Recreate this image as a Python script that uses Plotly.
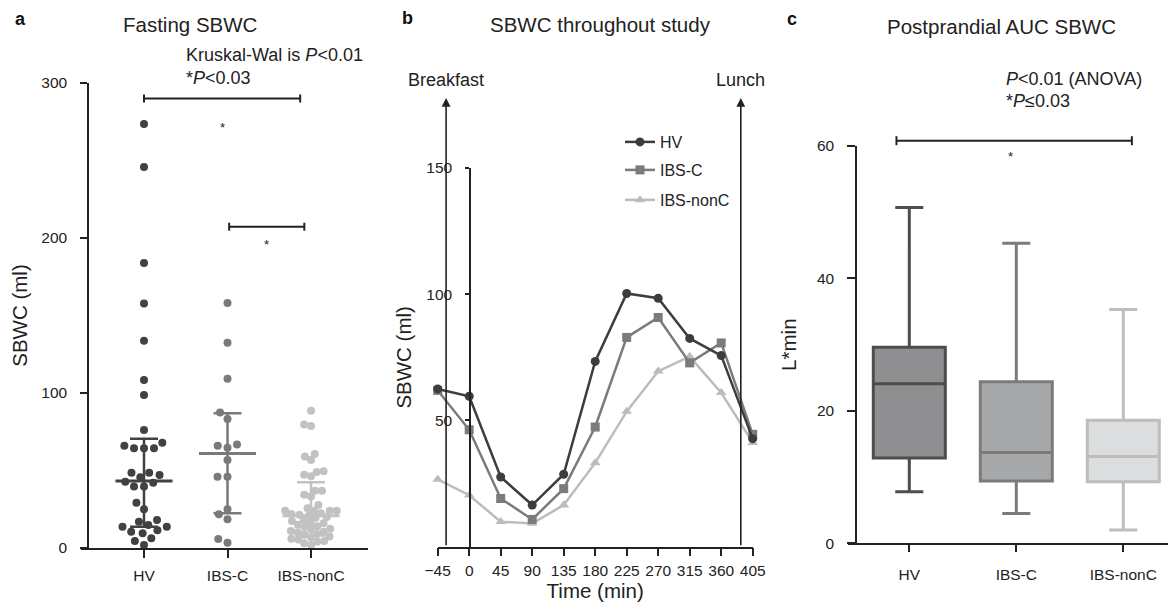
import math
import plotly.graph_objects as go

# ---------------- data ----------------
groups = ["HV", "IBS-C", "IBS-nonC"]

# Panel a: fasting SBWC (ml), individual subjects
fasting_hv = [273.5, 245.8, 183.9, 157.8, 133.7, 108.4, 98.7, 76.1, 67.9, 66.0, 64.3, 64.3,
              64.3, 48.6, 48.6, 47.1, 45.6, 42.8, 42.1, 39.6, 39.6, 29.2, 25.0, 18.0, 17.0,
              14.8, 13.7, 13.7, 11.4, 10.5, 9.5, 6.3, 4.5, 1.9]
fasting_ibsc = [158.0, 132.5, 109.2, 87.5, 83.2, 66.7, 66.0, 64.7, 56.8, 46.0, 46.0, 25.0,
                21.7, 18.5, 5.8, 3.4]
fasting_ibsnonc = [88.6, 79.6, 78.7, 60.6, 59.0, 56.8, 49.5, 49.0, 47.3, 46.3, 37.0, 37.0,
                   34.4, 33.3, 27.7, 25.6, 24.1, 24.1, 24.1, 24.1, 22.5, 22.0, 21.5, 21.0,
                   20.0, 19.5, 18.0, 17.5, 16.5, 16.0, 15.0, 14.0, 13.5, 12.5, 12.0, 11.0,
                   10.5, 10.0, 9.0, 8.5, 7.5, 7.0, 6.0, 5.5, 4.5, 4.0, 3.0, 2.0]
# median and interquartile range shown on panel a
fasting_median = [43.2, 61.0, 20.8]
fasting_q1 = [13.7, 22.4, 8.0]
fasting_q3 = [70.5, 87.0, 42.4]

# Panel b: SBWC over time (ml)
time_min = [-45, 0, 45, 90, 135, 180, 225, 270, 315, 360, 405]
sbwc_hv = [62.5, 59.6, 27.6, 16.5, 28.7, 73.4, 100.3, 98.4, 82.5, 75.7, 42.8]
sbwc_ibsc = [61.9, 46.3, 19.1, 10.8, 23.0, 47.4, 82.9, 90.8, 72.8, 80.7, 44.5]
sbwc_ibsnonc = [26.7, 20.4, 9.9, 9.2, 16.5, 33.2, 53.6, 69.5, 75.3, 61.0, 41.2]
meal_times = [-33, 388]
meal_labels = ["Breakfast", "Lunch"]

# Panel c: postprandial AUC (L*min) box summaries
auc_low = [7.8, 4.5, 2.0]
auc_q1 = [12.9, 9.4, 9.3]
auc_median = [24.1, 13.7, 13.1]
auc_q3 = [29.6, 24.4, 18.6]
auc_high = [50.7, 45.3, 35.3]

# significance brackets: (from category, to category, level)
brackets_a = [(0.0, 1.87, 290.0), (1.02, 1.92, 207.3)]
brackets_c = [(-0.12, 2.08, 60.8)]

# ---------------- layout geometry (pixels of the 1176x611 page) ----------------
PAGE_W, PAGE_H = 1176, 611
BODY = 8                       # default page body margin
W, H = PAGE_W - BODY, PAGE_H - BODY
FONT = "Liberation Sans, Arial, Helvetica, sans-serif"
INK = "#222222"

def fx(px):
    return (px - BODY) / W

def fy(py):
    return 1 - (py - BODY) / H

A_X0, A_X1, A_YAX, A_YB, A_YT = 81, 368, 88, 548, 83
A_CAT0, A_STEP = 144, 83.5
B_X0, B_X1, B_YAX, B_YB, B_YT = 437.7, 752.7, 470, 546.7, 168
C_X0, C_X1, C_YAX, C_YB, C_YT = 848, 1176, 856, 543.3, 146
C_CAT0, C_STEP = 909.3, 107
ARROW_TOP = 98

a_ppu = (A_YB - A_YT) / 300.0     # px per ml
c_ppu = (C_YB - C_YT) / 60.0      # px per L*min

col_pts = ["#414141", "#7a7a7a", "#c2c2c2"]
col_line = ["#3d3d3d", "#7b7b7b", "#bcbcbc"]
col_box_fill = ["#8f8f91", "#a7a8aa", "#dcdddf"]
col_box_edge = ["#4d4d4d", "#7b7b7b", "#bdbdbd"]
swarm_gap = [10.0, 10.0, 7.0]


def swarm(values, diam, ppu):
    """beeswarm horizontal offsets (pixels) from values"""
    placed = []
    offs = [0.0] * len(values)
    for i in sorted(range(len(values)), key=lambda k: values[k]):
        y = values[i] * ppu
        cands = [0.0]
        for xo, yo in placed:
            dy = abs(y - yo)
            if dy < diam:
                dx = math.sqrt(diam * diam - dy * dy)
                cands += [xo + dx, xo - dx]
        cands.sort(key=lambda c: (abs(c), c))
        for c in cands:
            if all((c - xo) ** 2 + (y - yo) ** 2 >= diam * diam - 1e-6 for xo, yo in placed):
                offs[i] = c
                placed.append((c, y))
                break
    return offs


fig = go.Figure()
shapes = []

# ---------------- panel a ----------------
for gi, vals in enumerate([fasting_hv, fasting_ibsc, fasting_ibsnonc]):
    offs = swarm(vals, swarm_gap[gi], a_ppu)
    fig.add_trace(go.Scatter(
        x=[gi + o / A_STEP for o in offs], y=vals, mode="markers",
        marker=dict(size=8, color=col_pts[gi], line=dict(width=0)),
        xaxis="x", yaxis="y", showlegend=False, cliponaxis=False, name=groups[gi]))
for gi in range(3):
    fig.add_trace(go.Scatter(
        x=[gi], y=[fasting_median[gi]], mode="markers",
        marker=dict(symbol="line-ew", size=57 / 1.4, line=dict(width=3, color=col_pts[gi])),
        error_y=dict(type="data", symmetric=False,
                     array=[fasting_q3[gi] - fasting_median[gi]],
                     arrayminus=[fasting_median[gi] - fasting_q1[gi]],
                     width=14, thickness=2.5, color=col_pts[gi]),
        xaxis="x", yaxis="y", showlegend=False, cliponaxis=False))


def bracket(x0, x1, ypx, h, xa):
    line = dict(color=INK, width=2)
    shapes.append(dict(type="line", xref=xa, yref="paper", x0=x0, x1=x1,
                       y0=fy(ypx), y1=fy(ypx), line=line))
    for xe in (x0, x1):
        shapes.append(dict(type="line", xref=xa, yref="paper", x0=xe, x1=xe,
                           y0=fy(ypx - h), y1=fy(ypx + h), line=line))


for x0, x1, lvl in brackets_a:
    bracket(x0, x1, A_YB - lvl * a_ppu, 4, "x")

# ---------------- panel b ----------------
series_b = [(sbwc_ibsnonc, 2, "triangle-up", "legend3"),
            (sbwc_ibsc, 1, "square", "legend2"),
            (sbwc_hv, 0, "circle", "legend")]
for vals, gi, sym, leg in series_b:
    fig.add_trace(go.Scatter(
        x=time_min, y=vals, mode="lines+markers", name=groups[gi],
        line=dict(color=col_line[gi], width=2.5),
        marker=dict(symbol=sym, size=9 if sym != "triangle-up" else 9.5, color=col_line[gi]),
        xaxis="x2", yaxis="y2", legend=leg, cliponaxis=False))

# ---------------- panel c ----------------
for gi in range(3):
    fig.add_trace(go.Box(
        x=[gi], q1=[auc_q1[gi]], median=[auc_median[gi]], q3=[auc_q3[gi]],
        lowerfence=[auc_low[gi]], upperfence=[auc_high[gi]],
        width=72 / C_STEP, whiskerwidth=0.39, boxpoints=False,
        fillcolor=col_box_fill[gi], line=dict(color=col_box_edge[gi], width=3),
        xaxis="x3", yaxis="y3", showlegend=False, name=groups[gi]))
for x0, x1, lvl in brackets_c:
    bracket(x0, x1, C_YB - lvl * c_ppu, 4.5, "x3")

# ---------------- axes ----------------
tickfont = dict(family=FONT, size=15.5, color=INK)
titlefont = dict(family=FONT, size=20.5, color=INK)
common = dict(showline=True, linecolor=INK, linewidth=1.5, ticks="outside",
              tickcolor=INK, tickwidth=1.5, showgrid=False, zeroline=False,
              tickfont=tickfont, automargin=False)

fig.update_layout(
    xaxis=dict(common, domain=[fx(A_X0), fx(A_X1)],
               range=[(A_X0 - A_CAT0) / A_STEP, (A_X1 - A_CAT0) / A_STEP],
               tickvals=[0, 1, 2], ticktext=groups, ticklen=8, anchor="y",
               ticklabelstandoff=5),
    yaxis=dict(common, domain=[fy(A_YB), fy(A_YT)], range=[0, 300],
               tickvals=[0, 100, 200, 300], ticklen=7, anchor="free", position=fx(A_YAX),
               ticklabelstandoff=10, title=dict(text="SBWC (ml)", font=titlefont, standoff=10)),
    xaxis2=dict(common, domain=[fx(B_X0), fx(B_X1)], range=[-45, 405],
                tickvals=time_min, ticklen=8, anchor="y2", ticklabelstandoff=1,
                title=dict(text="Time (min)", font=titlefont, standoff=4)),
    yaxis2=dict(common, domain=[fy(B_YB), fy(B_YT)], range=[0, 150],
                tickvals=[50, 100, 150], ticklen=4, anchor="free", position=fx(B_YAX),
                ticklabelstandoff=10, title=dict(text="SBWC (ml)", font=titlefont, standoff=8)),
    xaxis3=dict(common, domain=[fx(C_X0), fx(C_X1)],
                range=[(C_X0 - C_CAT0) / C_STEP, (C_X1 - C_CAT0) / C_STEP],
                tickvals=[0, 1, 2], ticktext=groups, ticklen=7, anchor="y3",
                ticklabelstandoff=9),
    yaxis3=dict(common, domain=[fy(C_YB), fy(C_YT)], range=[0, 60],
                tickvals=[0, 20, 40, 60], ticklen=8, anchor="free", position=fx(C_YAX),
                ticklabelstandoff=10, title=dict(text="L*min", font=titlefont, standoff=14)),
)

# legends (one per entry for exact spacing)
leg_common = dict(xanchor="left", yanchor="middle", bgcolor="rgba(0,0,0,0)",
                  font=dict(family=FONT, size=16, color=INK), itemwidth=30)
fig.update_layout(
    legend=dict(leg_common, x=fx(620), y=fy(142)),
    legend2=dict(leg_common, x=fx(620), y=fy(170)),
    legend3=dict(leg_common, x=fx(620), y=fy(200)),
)

# ---------------- annotations ----------------
ann = []

def text(px, py, s, size=18, xanchor="center", bold=False):
    ann.append(dict(x=fx(px), y=fy(py), xref="paper", yref="paper", text=s,
                    showarrow=False, xanchor=xanchor, yanchor="middle",
                    font=dict(family=FONT, size=size, color="#111" if bold else INK)))

text(13, 19, "<b>a</b>", 18, "left", True)
text(190, 25, "Fasting SBWC", 20.5)
text(184, 55, "Kruskal-Wal is <i>P</i><0.01", 18, "left")
text(184, 78, "*<i>P</i><0.03", 18, "left")
text(222, 128, "*", 13)
text(266, 244, "*", 13)

text(400, 18, "<b>b</b>", 18, "left", True)
text(600, 25, "SBWC throughout study", 20.5)

text(785, 19, "<b>c</b>", 18, "left", True)
text(1001, 27, "Postprandial AUC SBWC", 20.5)
text(1004, 79, "<i>P</i><0.01 (ANOVA)", 18, "left")
text(1004, 101, "*<i>P</i>≤0.03", 18, "left")
text(1010, 156, "*", 13)

for t, lab in zip(meal_times, meal_labels):
    ann.append(dict(x=t, y=fy(ARROW_TOP), xref="x2", yref="paper", axref="pixel",
                    ayref="pixel", ax=0, ay=B_YB - ARROW_TOP, text="", showarrow=True,
                    arrowhead=2, arrowsize=1.1, arrowwidth=1.6, arrowcolor=INK))
    ann.append(dict(x=t, y=fy(80), xref="x2", yref="paper", text=lab, showarrow=False,
                    xanchor="center", yanchor="middle",
                    font=dict(family=FONT, size=18, color=INK)))

fig.update_layout(
    annotations=ann, shapes=shapes, width=W, height=H,
    margin=dict(l=0, r=0, t=0, b=0, autoexpand=False),
    paper_bgcolor="white", plot_bgcolor="white",
    font=dict(family=FONT, color=INK),
)

fig.write_html("out.html")
